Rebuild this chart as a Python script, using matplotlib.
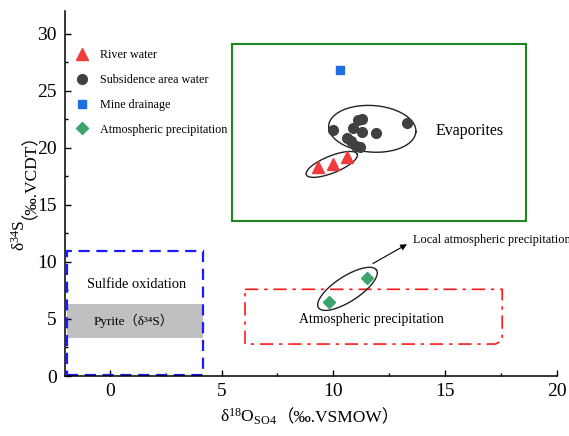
import numpy as np
import matplotlib
matplotlib.use("Agg")
import matplotlib.pyplot as plt
from matplotlib.patches import Rectangle, Polygon
from matplotlib.ticker import MultipleLocator

plt.rcParams['font.family'] = ['Liberation Serif', 'Noto Sans CJK SC', 'DejaVu Serif']
plt.rcParams['mathtext.fontset'] = 'custom'
plt.rcParams['mathtext.rm'] = 'Liberation Serif'
plt.rcParams['mathtext.it'] = 'Liberation Serif:italic'
plt.rcParams['mathtext.bf'] = 'Liberation Serif:bold'

# ---------------- data ----------------
river_x = [9.3, 10.0, 10.6]
river_y = [18.3, 18.55, 19.2]

subs_x = [10.0, 11.1, 11.3, 10.9, 11.3, 11.9, 10.6, 10.8, 11.0, 11.2, 13.3]
subs_y = [21.6, 22.4, 22.5, 21.7, 21.4, 21.3, 20.9, 20.6, 20.2, 20.1, 22.2]

mine_x = [10.3]
mine_y = [26.8]

atm_x = [9.8, 11.5]
atm_y = [6.5, 8.6]

series_labels = ["River water", "Subsidence area water", "Mine drainage",
                 "Atmospheric precipitation"]

x_ticks = [0, 5, 10, 15, 20]
y_ticks = [0, 5, 10, 15, 20, 25, 30]

# ---------------- figure ----------------
W, H = 569, 436
fig = plt.figure(figsize=(W / 100, H / 100), dpi=100)
ax_l, ax_r, ax_t, ax_b = 65, 557, 11, 376
ax = fig.add_axes([ax_l / W, 1 - ax_b / H, (ax_r - ax_l) / W, (ax_b - ax_t) / H])
xmin, xmax, ymin, ymax = -2, 20, 0, 32
ax.set_xlim(xmin, xmax)
ax.set_ylim(ymin, ymax)
sx = (ax_r - ax_l) / (xmax - xmin)   # px per x unit
sy = (ax_b - ax_t) / (ymax - ymin)   # px per y unit

for s in ['top', 'right']:
    ax.spines[s].set_visible(False)
for s in ['left', 'bottom']:
    ax.spines[s].set_linewidth(1.1)

ax.set_xticks(x_ticks)
ax.set_yticks(y_ticks)
ax.xaxis.set_minor_locator(MultipleLocator(2.5))
ax.yaxis.set_minor_locator(MultipleLocator(2.5))
ax.tick_params(which='major', direction='in', length=4.5, width=1.0, labelsize=14)
ax.tick_params(which='minor', direction='in', length=2.5, width=1.0)
ax.tick_params(axis='x', which='major', pad=5)
ax.tick_params(axis='y', which='major', pad=6)

# ---------------- region boxes ----------------
ax.add_patch(Rectangle((5.45, 13.6), 18.6 - 5.45, 29.15 - 13.6, fill=False,
                       edgecolor='#1e861e', linewidth=1.5, zorder=2))
ax.add_patch(Rectangle((-1.9, 3.35), 4.17 + 1.9, 6.27 - 3.35, facecolor='#c0c0c0',
                       edgecolor='none', zorder=1))
ax.add_patch(Rectangle((-1.9, 0.05), 4.17 + 1.9, 11.0 - 0.05, fill=False,
                       edgecolor='#1a1aff', linewidth=1.6, linestyle=(0, (5, 3)),
                       zorder=2, clip_on=False))
red_poly = [(6.05, 7.6), (17.55, 7.6), (17.55, 3.1), (17.25, 2.8), (6.05, 2.8)]
ax.add_patch(Polygon(red_poly, closed=True, fill=False, edgecolor='#ff1a1a',
                     linewidth=1.2, linestyle=(0, (8, 3.5, 2, 3.5)), zorder=2))

# ---------------- ellipses (defined in pixel-like units) ----------------
def ellipse(cx, cy, a_px, b_px, ang_deg):
    t = np.linspace(0, 2 * np.pi, 300)
    th = np.deg2rad(ang_deg)
    ex = cx + (a_px * np.cos(t) * np.cos(th) - b_px * np.sin(t) * np.sin(th)) / sx
    ey = cy + (a_px * np.cos(t) * np.sin(th) + b_px * np.sin(t) * np.cos(th)) / sy
    ax.plot(ex, ey, color='#222222', linewidth=1.0, zorder=3)

ellipse(11.74, 21.67, 43.7, 23.3, -4)
ellipse(9.93, 18.55, 27.5, 8.5, 22)
ellipse(10.63, 7.64, 34.6, 12.5, 33)

# ---------------- data points ----------------
ax.plot(river_x, river_y, linestyle='none', marker='^', ms=8, color='#f03c3c',
        label=series_labels[0], zorder=4)
ax.plot(subs_x, subs_y, linestyle='none', marker='o', ms=7, color='#404040',
        label=series_labels[1], zorder=4)
ax.plot(mine_x, mine_y, linestyle='none', marker='s', ms=6, color='#1f6fe0',
        label=series_labels[2], zorder=4)
ax.plot(atm_x, atm_y, linestyle='none', marker='D', ms=5.8, color='#3aa46a',
        label=series_labels[3], zorder=4)

leg = ax.legend(loc='upper left', bbox_to_anchor=((76 - ax_l) / (ax_r - ax_l), (ax_b - 49.5) / (ax_b - ax_t)),
                frameon=False, fontsize=8.7, borderpad=0, borderaxespad=0,
                handlelength=1.0, handletextpad=1.0, labelspacing=1.05, numpoints=1)

# ---------------- annotations ----------------
ax.text(14.55, 21.5, "Evaporites", fontsize=11.5, ha='left', va='center', zorder=5)
ax.text(1.18, 8.0, "Sulfide oxidation", fontsize=10.4, ha='center', va='center', zorder=5)
ax.text(1.07, 4.84, "Pyrite（δ³⁴S）", fontsize=9.5, ha='center', va='center', zorder=5)
ax.text(11.71, 4.96, "Atmospheric precipitation", fontsize=9.9, ha='center', va='center', zorder=5)
ax.text(13.55, 11.9, "Local atmospheric precipitation", fontsize=8.9, ha='left', va='center', zorder=5)
ax.annotate("", xy=(13.29, 11.55), xytext=(11.77, 9.86),
            arrowprops=dict(arrowstyle='-|>', color='black', lw=0.8,
                            mutation_scale=9, shrinkA=0, shrinkB=0), zorder=5)

# ---------------- axis labels ----------------
xs, xb = 277 / W, 1 - 422 / H
fig.text(xs, xb, "δ$^{\\mathrm{18}}$O$_{\\mathrm{SO4}}$", ha='right', va='baseline',
         fontsize=12.5, family='Liberation Serif')
fig.text(xs, xb, "（‰.VSMOW）", ha='left', va='baseline', fontsize=12.5,
         family=['Liberation Serif', 'Noto Sans CJK SC'])

yb, ys = 25 / W, 1 - 219 / H
fig.text(yb, ys, "δ$^{\\mathrm{34}}$S", ha='right', va='baseline', rotation=90,
         rotation_mode='anchor', fontsize=12.5, family='Liberation Serif')
fig.text(yb, ys, "（‰.VCDT）", ha='left', va='baseline', rotation=90,
         rotation_mode='anchor', fontsize=12.5, family=['Liberation Serif', 'Noto Sans CJK SC'])

fig.savefig("out.png", dpi=100)
